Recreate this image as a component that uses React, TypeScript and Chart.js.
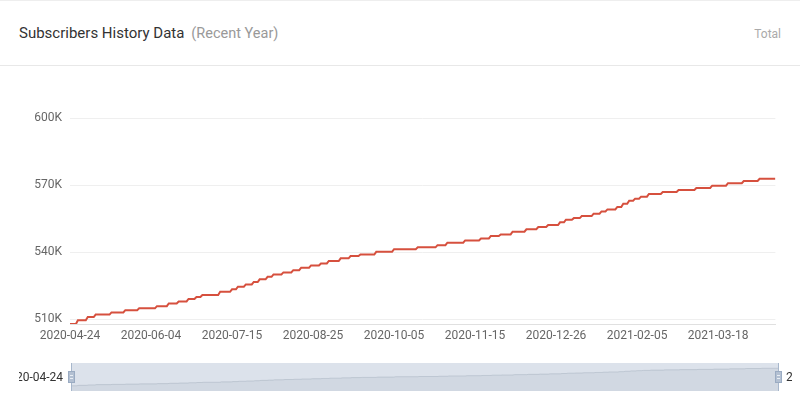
import React, { useEffect, useRef } from 'react';
import { Chart, registerables } from 'chart.js';

Chart.register(...registerables);

// ---- data ----
const startDate = '2020-04-24';
const endDate = '2021-04-16';

// day index (from startDate) at which each new subscriber level is reached
const stepDays = [
  0, 4, 9, 13, 21, 28, 35, 44, 50, 55,
  60, 64, 67, 76, 82, 85, 89, 93, 96, 100,
  103, 108, 113, 117, 122, 127, 131, 137, 142, 147,
  155, 164, 176, 186, 191, 200, 208, 213, 218, 224,
  231, 237, 242, 248, 251, 255, 259, 265, 269, 272,
  277, 280, 283, 286, 289, 293, 300, 308, 317, 325,
  333, 341, 349,
];

// subscriber count for each level
const stepValues = [
  507800, 509500, 510900, 512000, 513000, 514000, 514800, 515800, 517000, 517900,
  519000, 519900, 520800, 522200, 523300, 524500, 525500, 526600, 527800, 528900,
  530000, 530900, 531900, 533000, 534000, 534900, 536000, 537200, 538200, 538900,
  540100, 541300, 542100, 543100, 544200, 545200, 546100, 547200, 547900, 549100,
  550200, 551200, 552100, 553300, 554500, 555200, 556100, 557200, 558200, 559100,
  560200, 561600, 563000, 563900, 564800, 566000, 566900, 567800, 568700, 569700,
  570800, 571800, 572800,
];

const xTickLabels = [
  '2020-04-24', '2020-06-04', '2020-07-15', '2020-08-25', '2020-10-05',
  '2020-11-15', '2020-12-26', '2021-02-05', '2021-03-18',
];

const yTickValues = [510000, 540000, 570000, 600000];
const yTickLabels = ['510K', '540K', '570K', '600K'];
const yMax = 600000;

const DAY = 86400000;
const dayIndex = (d: string) => Math.round((Date.parse(d) - Date.parse(startDate)) / DAY);
const lastDay = dayIndex(endDate);

function buildPoints() {
  const pts: { x: number; y: number }[] = [{ x: stepDays[0], y: stepValues[0] }];
  for (let k = 1; k < stepDays.length; k++) {
    pts.push({ x: stepDays[k] - 1, y: stepValues[k - 1] });
    pts.push({ x: stepDays[k], y: stepValues[k] });
  }
  pts.push({ x: lastDay, y: stepValues[stepValues.length - 1] });
  return pts;
}

const FONT = 'Roboto, "Liberation Sans", sans-serif';

const sliderDecor = {
  id: 'sliderDecor',
  afterDraw(chart: any) {
    const { ctx, chartArea: a } = chart;
    ctx.save();
    ctx.fillStyle = 'rgba(167,183,204,0.4)';
    ctx.fillRect(a.left, a.top, a.right - a.left, a.bottom - a.top);
    const cy = (a.top + a.bottom) / 2;
    for (const hx of [a.left, a.right]) {
      ctx.strokeStyle = '#a7b7cc';
      ctx.lineWidth = 1;
      ctx.beginPath();
      ctx.moveTo(Math.round(hx) + 0.5, a.top);
      ctx.lineTo(Math.round(hx) + 0.5, a.bottom);
      ctx.stroke();
      ctx.fillStyle = '#b3c0d2';
      ctx.fillRect(Math.round(hx) - 2.5, cy - 5.5, 6, 11);
      ctx.strokeStyle = '#9aabc2';
      ctx.strokeRect(Math.round(hx) - 2.5, cy - 5.5, 6, 11);
      ctx.strokeStyle = '#e9eef4';
      ctx.beginPath();
      ctx.moveTo(Math.round(hx) - 1, cy - 1.5);
      ctx.lineTo(Math.round(hx) + 2, cy - 1.5);
      ctx.moveTo(Math.round(hx) - 1, cy + 1.5);
      ctx.lineTo(Math.round(hx) + 2, cy + 1.5);
      ctx.stroke();
    }
    ctx.font = '12px ' + FONT;
    ctx.fillStyle = '#333';
    ctx.textBaseline = 'middle';
    // left label (clipped)
    ctx.save();
    ctx.beginPath();
    ctx.rect(19, 0, a.left - 19, chart.height);
    ctx.clip();
    ctx.textAlign = 'right';
    ctx.fillText(startDate, a.left - 8, cy + 0.5);
    ctx.restore();
    // right label (clipped)
    ctx.save();
    ctx.beginPath();
    ctx.rect(a.right + 4, 0, 792 - (a.right + 4), chart.height);
    ctx.clip();
    ctx.textAlign = 'left';
    ctx.fillText(endDate, a.right + 8, cy + 0.5);
    ctx.restore();
    ctx.restore();
  },
};

export default function App() {
  const mainRef = useRef<HTMLCanvasElement>(null);
  const sliderRef = useRef<HTMLCanvasElement>(null);

  useEffect(() => {
    document.body.style.margin = '0';
    const points = buildPoints();
    const dataMin = Math.min(...stepValues);
    const dataMax = Math.max(...stepValues);
    const range = dataMax - dataMin;

    const main = new Chart(mainRef.current as HTMLCanvasElement, {
      type: 'line',
      data: {
        datasets: [
          {
            data: points,
            borderColor: '#d6503e',
            borderWidth: 2,
            pointRadius: 0,
            tension: 0,
            fill: false,
          },
        ],
      },
      options: {
        animation: false,
        responsive: false,
        maintainAspectRatio: false,
        events: [],
        layout: { padding: { top: 118, right: 24.6, bottom: 41, left: 0 } },
        plugins: { legend: { display: false }, tooltip: { enabled: false } },
        scales: {
          x: {
            type: 'linear',
            min: 0,
            max: lastDay,
            afterBuildTicks: (s: any) => {
              s.ticks = xTickLabels.map((l) => ({ value: dayIndex(l) }));
            },
            afterFit: (s: any) => {
              s.height = 30;
            },
            grid: { display: false, drawTicks: false },
            border: { display: true, color: '#e0e0e0' },
            ticks: {
              autoSkip: false,
              maxRotation: 0,
              padding: 5,
              color: '#666',
              font: { family: FONT, size: 12 },
              callback: (_v: any, i: number) => xTickLabels[i],
            },
          },
          y: {
            type: 'linear',
            min: dataMin,
            max: yMax,
            afterBuildTicks: (s: any) => {
              s.ticks = yTickValues.map((v) => ({ value: v }));
            },
            afterFit: (s: any) => {
              s.width = 70;
            },
            grid: { color: '#efefef', drawTicks: false },
            border: { display: false },
            ticks: {
              padding: 8,
              color: '#666',
              font: { family: FONT, size: 12 },
              callback: (_v: any, i: number) => yTickLabels[i],
            },
          },
        },
      },
    } as any);

    const slider = new Chart(sliderRef.current as HTMLCanvasElement, {
      type: 'line',
      data: {
        datasets: [
          {
            data: points,
            borderColor: 'rgba(47,69,84,0.3)',
            borderWidth: 0.7,
            backgroundColor: 'rgba(47,69,84,0.09)',
            fill: 'start',
            pointRadius: 0,
            tension: 0,
          },
        ],
      },
      options: {
        animation: false,
        responsive: false,
        maintainAspectRatio: false,
        events: [],
        layout: { padding: { top: 8, right: 22, bottom: 4, left: 71 } },
        plugins: { legend: { display: false }, tooltip: { enabled: false } },
        scales: {
          x: { type: 'linear', display: false, min: 0, max: lastDay },
          y: { type: 'linear', display: false, min: dataMin - 0.3 * range, max: dataMax + 0.3 * range },
        },
      },
      plugins: [sliderDecor],
    } as any);

    return () => {
      main.destroy();
      slider.destroy();
    };
  }, []);

  return (
    <div
      style={{
        position: 'relative',
        width: 800,
        height: 395,
        background: '#fff',
        overflow: 'hidden',
        fontFamily: FONT,
      }}
    >
      <div style={{ position: 'absolute', left: 0, top: 0, width: 800, height: 1, background: '#eeeeee' }} />
      <div
        style={{
          position: 'absolute',
          left: 19,
          top: 23,
          fontSize: 15,
          lineHeight: '20px',
          color: '#333',
          whiteSpace: 'nowrap',
        }}
      >
        Subscribers History Data
        <span style={{ color: '#999', marginLeft: 7, fontSize: 14.5 }}>(Recent Year)</span>
      </div>
      <div
        style={{
          position: 'absolute',
          right: 19,
          top: 26,
          fontSize: 12,
          lineHeight: '16px',
          color: '#aaa',
          whiteSpace: 'nowrap',
        }}
      >
        Total
      </div>
      <div style={{ position: 'absolute', left: 0, top: 65, width: 800, height: 1, background: '#e8e8e8' }} />
      <canvas ref={mainRef} width={800} height={395} style={{ position: 'absolute', left: 0, top: 0 }} />
      <canvas ref={sliderRef} width={800} height={40} style={{ position: 'absolute', left: 0, top: 355 }} />
    </div>
  );
}
